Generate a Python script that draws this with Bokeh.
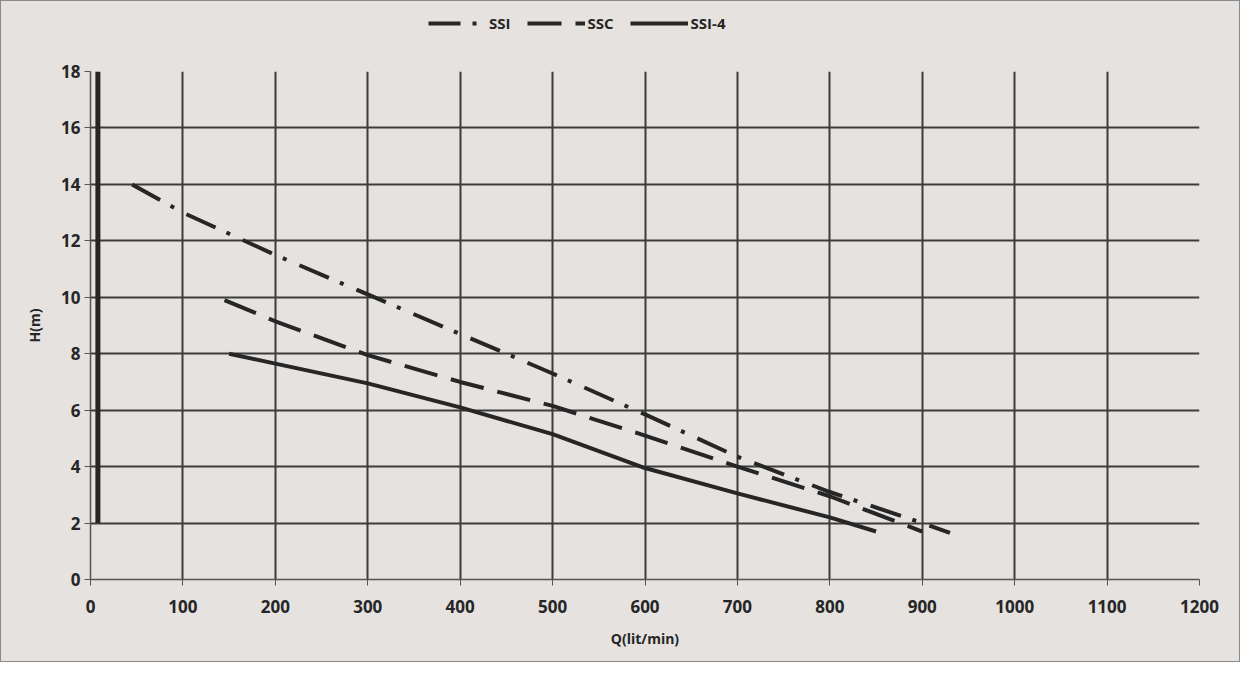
from bokeh.plotting import figure
from bokeh.layouts import column
from bokeh.models import Legend, LegendItem, FixedTicker, Range1d
from bokeh.embed import file_html
from bokeh.resources import INLINE

# --- data ---
ssi_q = [45, 100, 200, 300, 400, 500, 600, 700, 800, 900, 930]
ssi_h = [14.0, 13.0, 11.5, 10.1, 8.7, 7.3, 5.85, 4.35, 3.1, 2.0, 1.65]
ssc_q = [145, 200, 300, 400, 500, 600, 700, 800, 900]
ssc_h = [9.9, 9.15, 7.95, 7.0, 6.15, 5.1, 4.0, 2.95, 1.7]
ssi4_q = [150, 200, 300, 400, 500, 600, 700, 800, 850]
ssi4_h = [8.0, 7.65, 6.95, 6.1, 5.15, 3.95, 3.05, 2.2, 1.7]
edge_q = [8, 8]
edge_h = [2, 18]
x_ticks = list(range(0, 1300, 100))
y_ticks = list(range(0, 20, 2))
series_names = ["SSI", "SSC", "SSI-4"]

BG = "#e5e2e0"
INK = "#262626"
FONT = "Open Sans"
DASHES = ["32 12 4 14", "34 14", "solid"]
series = [(ssi_q, ssi_h), (ssc_q, ssc_h), (ssi4_q, ssi4_h)]

W = 1238

# ---- legend strip (series drawn off-range so only the legend shows) ----
lf = figure(width=W, height=56, output_backend="svg", toolbar_location=None,
            x_range=Range1d(-3, -2), y_range=Range1d(-3, -2),
            background_fill_color=BG, border_fill_color=BG,
            min_border=0, min_border_left=0, min_border_right=0,
            min_border_top=0, min_border_bottom=0)
lf.axis.visible = False
lf.grid.visible = False
lf.outline_line_color = None
items = []
for name, dash, (qq, hh) in zip(series_names, DASHES, series):
    r = lf.line(qq, hh, line_color=INK, line_width=4, line_dash=dash)
    items.append(LegendItem(label=name, renderers=[r]))
legend = Legend(items=items, orientation="horizontal", location=(338, 24),
                label_text_font=FONT, label_text_font_style="bold",
                label_text_font_size="15px", label_text_color=INK,
                glyph_width=58, spacing=16, label_standoff=3,
                background_fill_alpha=0, border_line_color=None,
                margin=0, padding=2)
lf.add_layout(legend)

# ---- main chart ----
p = figure(width=W, height=604, output_backend="svg", toolbar_location=None,
           x_range=Range1d(0, 1200), y_range=Range1d(0, 18),
           background_fill_color=BG, border_fill_color=BG,
           min_border_left=89, min_border_right=40, min_border_top=14, min_border_bottom=82)
p.outline_line_color = None

p.xaxis.ticker = FixedTicker(ticks=x_ticks)
p.yaxis.ticker = FixedTicker(ticks=y_ticks)
p.xaxis.axis_label = "Q(lit/min)"
p.yaxis.axis_label = "H(m)"
for ax in (p.xaxis[0], p.yaxis[0]):
    ax.axis_line_color = "#555555"
    ax.axis_line_width = 1.5
    ax.major_tick_line_color = "#555555"
    ax.major_tick_out = 6
    ax.major_tick_in = 0
    ax.minor_tick_line_color = None
    ax.major_label_text_font = FONT
    ax.major_label_text_font_style = "bold"
    ax.major_label_text_font_size = "17px"
    ax.major_label_text_color = INK
    ax.axis_label_text_font = FONT
    ax.axis_label_text_font_style = "bold"
    ax.axis_label_text_font_size = "14px"
    ax.axis_label_text_color = INK
p.xaxis.major_label_standoff = 14
p.yaxis.major_label_standoff = 4
p.xaxis.axis_label_standoff = 13
p.yaxis.axis_label_standoff = 14

p.xgrid.ticker = FixedTicker(ticks=x_ticks)
p.ygrid.ticker = FixedTicker(ticks=y_ticks)
for g in (p.xgrid[0], p.ygrid[0]):
    g.grid_line_color = "#3c3c3c"
    g.grid_line_width = 2

p.line(edge_q, edge_h, line_color=INK, line_width=5)
for dash, (qq, hh) in zip(DASHES, series):
    p.line(qq, hh, line_color=INK, line_width=4, line_dash=dash)

page = column(lf, p, spacing=0, styles={"border": "1px solid #8a8a8a", "background": BG})
open("out.html", "w").write(file_html(page, INLINE))
